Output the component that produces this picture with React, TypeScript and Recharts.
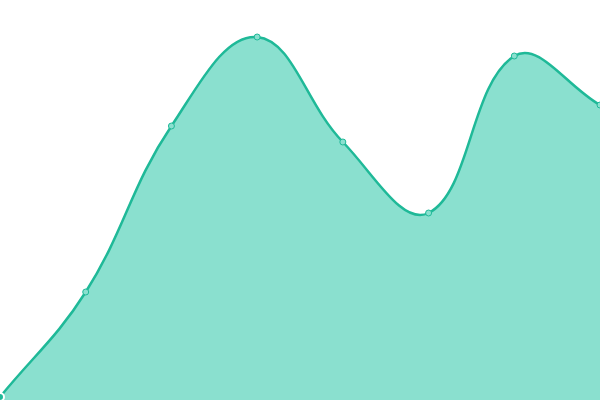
import { AreaChart, Area, XAxis, YAxis } from 'recharts';

const categories = ['A', 'B', 'C', 'D', 'E', 'F', 'G', 'H'];
const values = [3, 108, 274, 363, 258, 187, 344, 295];

const data = categories.map((name, i) => ({ name, value: values[i] }));

const TENSION = 0.4;

// distance-weighted cardinal spline, passed to recharts as a curve factory
const smoothCurve = (context: any) => {
  let pts: number[][] = [];
  let line = NaN;
  const draw = () => {
    const n = pts.length;
    if (!n) return;
    if (line) context.lineTo(pts[0][0], pts[0][1]);
    else context.moveTo(pts[0][0], pts[0][1]);
    const cps = pts.map((cur, i) => {
      const prev = pts[i - 1] || cur;
      const next = pts[i + 1] || cur;
      const d01 = Math.hypot(cur[0] - prev[0], cur[1] - prev[1]);
      const d12 = Math.hypot(next[0] - cur[0], next[1] - cur[1]);
      const sum = d01 + d12;
      const fa = sum ? (TENSION * d01) / sum : 0;
      const fb = sum ? (TENSION * d12) / sum : 0;
      return {
        prev: [cur[0] - fa * (next[0] - prev[0]), cur[1] - fa * (next[1] - prev[1])],
        next: [cur[0] + fb * (next[0] - prev[0]), cur[1] + fb * (next[1] - prev[1])],
      };
    });
    for (let i = 1; i < n; i++) {
      const a = cps[i - 1].next;
      const b = cps[i].prev;
      context.bezierCurveTo(a[0], a[1], b[0], b[1], pts[i][0], pts[i][1]);
    }
  };
  return {
    areaStart() {
      line = 0;
    },
    areaEnd() {
      line = NaN;
    },
    lineStart() {
      pts = [];
    },
    lineEnd() {
      draw();
      if (line || (line !== 0 && pts.length === 1)) context.closePath();
      line = 1 - line;
    },
    point(x: number, y: number) {
      pts.push([+x, +y]);
    },
  };
};

export default function App() {
  return (
    <div style={{ width: 600, height: 400 }}>
      <style>{'body{margin:0}'}</style>
      <AreaChart width={600} height={400} data={data} margin={{ top: 0, right: 0, bottom: 0, left: 0 }}>
        <XAxis dataKey="name" hide />
        <YAxis hide domain={[0, 400]} />
        <Area
          type={smoothCurve as any}
          dataKey="value"
          stroke="#1fb998"
          strokeWidth={2.5}
          fill="#8ae0cf"
          fillOpacity={1}
          dot={{ r: 3, fill: '#8ae0cf', stroke: '#1fb998', strokeWidth: 1 }}
          isAnimationActive={false}
        />
      </AreaChart>
    </div>
  );
}
